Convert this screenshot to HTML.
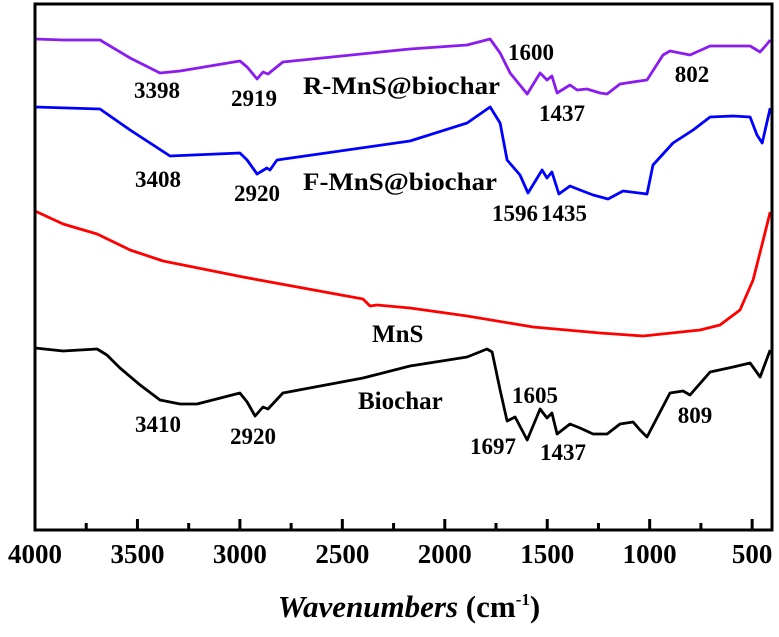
<!DOCTYPE html>
<html><head><meta charset="utf-8"><style>
html,body{margin:0;padding:0;background:#fff;}
svg{display:block;font-family:"Liberation Serif",serif;}
.lbl{font-size:23px;font-weight:bold;fill:#000;}
.slbl{font-size:25px;font-weight:bold;fill:#000;}
.tick{font-size:27px;font-weight:bold;fill:#000;}
</style></head><body>
<svg id="chart" width="779" height="637" viewBox="0 0 779 637" xmlns="http://www.w3.org/2000/svg">
<g id="series"></g>
<g id="axes"></g>
<g id="labels">
<text class="lbl" x="157" y="98" text-anchor="middle">3398</text>
<text class="lbl" x="254" y="106" text-anchor="middle">2919</text>
<text class="slbl" x="303" y="94" textLength="197" lengthAdjust="spacingAndGlyphs">R-MnS@biochar</text>
<text class="lbl" x="531" y="60" text-anchor="middle">1600</text>
<text class="lbl" x="562" y="121" text-anchor="middle">1437</text>
<text class="lbl" x="692" y="82" text-anchor="middle">802</text>
<text class="lbl" x="158" y="187" text-anchor="middle">3408</text>
<text class="lbl" x="257" y="201" text-anchor="middle">2920</text>
<text class="slbl" x="303" y="190" textLength="194" lengthAdjust="spacingAndGlyphs">F-MnS@biochar</text>
<text class="lbl" x="515" y="221" text-anchor="middle">1596</text>
<text class="lbl" x="564" y="221" text-anchor="middle">1435</text>
<text class="slbl" x="372" y="342">MnS</text>
<text class="slbl" x="358" y="409">Biochar</text>
<text class="lbl" x="158" y="432" text-anchor="middle">3410</text>
<text class="lbl" x="253" y="444" text-anchor="middle">2920</text>
<text class="lbl" x="535" y="403" text-anchor="middle">1605</text>
<text class="lbl" x="493" y="454" text-anchor="middle">1697</text>
<text class="lbl" x="563" y="460" text-anchor="middle">1437</text>
<text class="lbl" x="695" y="423" text-anchor="middle">809</text>
<text x="409" y="617" text-anchor="middle" font-size="31" font-weight="bold"><tspan font-style="italic">Wavenumbers</tspan> (cm<tspan font-size="17" dy="-12">-1</tspan><tspan dy="12">)</tspan></text>
</g>
</svg>
<script>
const xTicks = [4000,3500,3000,2500,2000,1500,1000,500];
const xTickLabels = ["4000","3500","3000","2500","2000","1500","1000","500"];
const xMinorTicks = [3750,3250,2750,2250,1750,1250,750];
const seriesNames = ["R-MnS@biochar","F-MnS@biochar","MnS","Biochar"];
const seriesColors = ["#8b1cf0","#0000ff","#ff0000","#000000"];
const rWn = [4000,3863,3683,3536,3390,3292,3000,2965,2916,2887,2863,2790,2170,1891,1779,1730,1681,1598,1535,1501,1477,1452,1389,1354,1306,1242,1208,1145,1081,1013,935,901,803,705,510,461,427,412];
const rVal = [491,490,490,472,457,459,469,463,451,458,456,468,481,485,491,477,457,436,457,450,454,437,445,440,441,437,436,446,448,450,475,479,475,484,484,478,486,490];
const fWn = [4000,3683,3536,3341,3000,2965,2916,2868,2853,2819,2170,1891,1779,1730,1696,1633,1594,1525,1501,1477,1443,1389,1340,1276,1203,1130,1013,984,886,788,705,593,510,476,451,412];
const fVal = [423,421,400,374,377,370,356,362,360,370,389,407,423,407,370,355,337,360,352,358,336,344,340,335,331,339,336,365,387,400,413,414,413,395,387,422];
const mWn = [4000,3863,3697,3536,3375,2985,2399,2365,2331,2170,1891,1569,1242,1032,754,657,559,495,446,412];
const mVal = [319,306,296,280,269,253,231,224,225,222,214,203,197,194,200,205,220,250,290,318];
const bWn = [4000,3863,3697,3649,3585,3487,3390,3292,3209,3000,2965,2926,2887,2863,2790,2399,2170,1891,1794,1769,1730,1696,1657,1598,1535,1501,1477,1452,1389,1340,1276,1208,1145,1081,1047,1013,901,837,803,705,593,510,461,412];
const bVal = [182,179,181,175,162,145,130,126,126,137,128,114,123,121,137,152,164,173,181,178,140,109,113,90,121,112,117,96,106,102,96,96,106,108,100,93,137,139,135,158,163,167,153,180];

const L=35,R=772,T=4,B=530;
const xMin=403,xMax=4000;
function xScale(w){return L+(xMax-w)/(xMax-xMin)*(R-L);}
function yScale(v){return B-v;}
const NS="http://www.w3.org/2000/svg";
const sg=document.getElementById('series');
const ag=document.getElementById('axes');
const allWn=[rWn,fWn,mWn,bWn], allVal=[rVal,fVal,mVal,bVal];
const snames=['r-mns-biochar-line','f-mns-biochar-line','mns-line','biochar-line'];
for(let s=0;s<4;s++){
  const p=document.createElementNS(NS,'path');
  let d='';
  allWn[s].forEach((w,i)=>{d+=(i?'L':'M')+xScale(w).toFixed(1)+' '+yScale(allVal[s][i]).toFixed(1);});
  p.setAttribute('d',d);p.setAttribute('fill','none');p.setAttribute('stroke',seriesColors[s]);
  p.setAttribute('stroke-width','2.8');p.setAttribute('stroke-linejoin','round');
  
  
  sg.appendChild(p);
}
const fr=document.createElementNS(NS,'rect');
fr.setAttribute('x',L);fr.setAttribute('y',T);fr.setAttribute('width',R-L);fr.setAttribute('height',B-T);
fr.setAttribute('fill','none');fr.setAttribute('stroke','#000');fr.setAttribute('stroke-width','3');


ag.appendChild(fr);
xTicks.forEach((t,i)=>{
  const x=xScale(t);
  if(i>0){
    const l=document.createElementNS(NS,'line');
    l.setAttribute('x1',x);l.setAttribute('x2',x);l.setAttribute('y1',B);l.setAttribute('y2',B-11);
    l.setAttribute('stroke','#000');l.setAttribute('stroke-width','3');
    
    
    ag.appendChild(l);
  }
  const tx=document.createElementNS(NS,'text');
  tx.setAttribute('x',x);tx.setAttribute('y',563);tx.setAttribute('text-anchor','middle');
  tx.setAttribute('class','tick');tx.textContent=xTickLabels[i];
  
  
  ag.appendChild(tx);
});
xMinorTicks.forEach(t=>{
  const x=xScale(t);
  const l=document.createElementNS(NS,'line');
  l.setAttribute('x1',x);l.setAttribute('x2',x);l.setAttribute('y1',B);l.setAttribute('y2',B-7);
  l.setAttribute('stroke','#000');l.setAttribute('stroke-width','3');
  
  
  ag.appendChild(l);
});
</script>
</body></html>
